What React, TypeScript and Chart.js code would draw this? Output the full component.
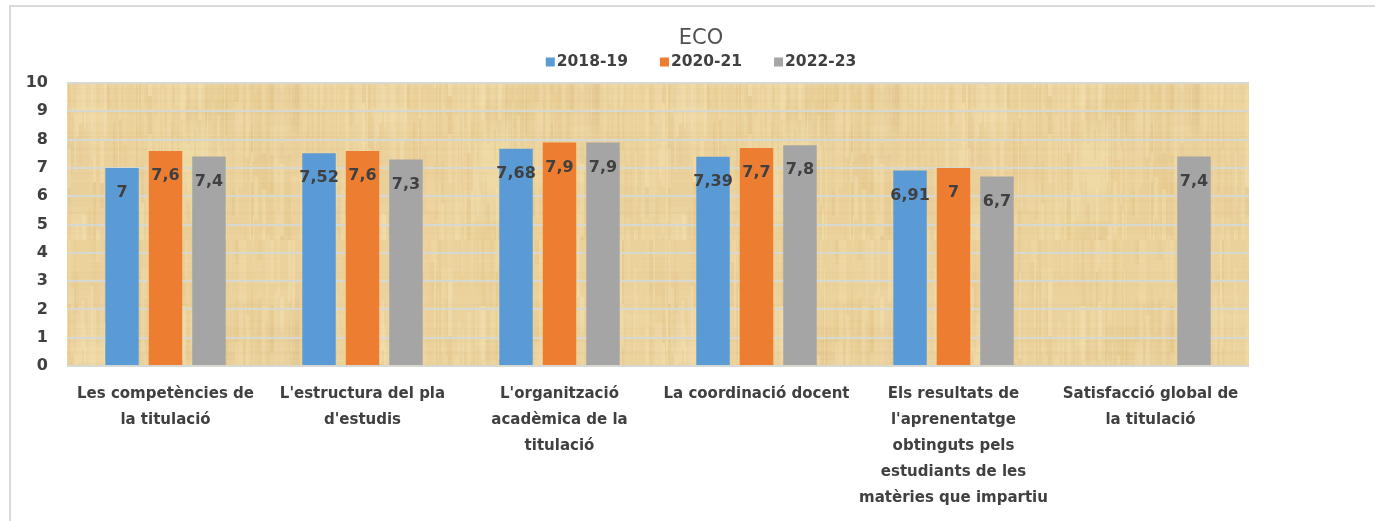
import React, { useEffect, useRef } from 'react';
import { Chart, registerables } from 'chart.js';

Chart.register(...registerables);

const TITLE = 'ECO';
const CATEGORIES: string[][] = [
  ['Les competències de', 'la titulació'],
  ["L'estructura del pla", "d'estudis"],
  ["L'organització", 'acadèmica de la', 'titulació'],
  ['La coordinació docent'],
  ['Els resultats de', "l'aprenentatge", 'obtinguts pels', 'estudiants de les', 'matèries que impartiu'],
  ['Satisfacció global de', 'la titulació'],
];
const SERIES_NAMES = ['2018-19', '2020-21', '2022-23'];
const VALUES_2018_19: (number | null)[] = [7, 7.52, 7.68, 7.39, 6.91, null];
const VALUES_2020_21: (number | null)[] = [7.6, 7.6, 7.9, 7.7, 7, null];
const VALUES_2022_23: (number | null)[] = [7.4, 7.3, 7.9, 7.8, 6.7, 7.4];
const SERIES_COLORS = ['#5B9BD5', '#ED7D31', '#A5A5A5'];
const Y_MIN = 0;
const Y_MAX = 10;
const Y_STEP = 1;

const FONT = '"DejaVu Sans", "Liberation Sans", sans-serif';
const TEXT_DARK = '#404040';

function hash(n: number): number {
  const v = Math.sin(n * 12.9898 + 78.233) * 43758.5453;
  return v - Math.floor(v);
}

function makePapyrus(): CanvasPattern | string {
  const c = document.createElement('canvas');
  const W = 300;
  const H = 240;
  c.width = W;
  c.height = H;
  const g = c.getContext('2d');
  if (!g) return '#EBD19A';
  g.fillStyle = '#EBD19A';
  g.fillRect(0, 0, W, H);
  for (let i = 0; i < 40; i++) {
    const x = hash(i * 3.1) * W;
    const y = hash(i * 5.7 + 2) * H;
    const w = 10 + hash(i * 7.3 + 1) * 40;
    const h = 20 + hash(i * 9.1 + 4) * 70;
    const f = hash(i * 11.3 + 6);
    g.fillStyle = f > 0.5 ? `rgba(245,228,180,${(f - 0.5) * 0.5})` : `rgba(205,170,105,${(0.5 - f) * 0.18})`;
    g.fillRect(x, y, w, h);
  }
  let x = 0;
  let col = 0;
  while (x < W) {
    const cw = 1 + Math.floor(hash(col * 4.7 + 9) * 4);
    let y = 0;
    let k = 0;
    while (y < H) {
      const len = 20 + Math.floor(hash(col * 31 + k * 7) * 70);
      const f = hash(col * 13 + k * 101 + 5);
      if (f > 0.6) {
        g.fillStyle = `rgba(248,234,192,${(f - 0.6) * 0.8})`;
        g.fillRect(x, y, cw, len);
      } else if (f < 0.3) {
        g.fillStyle = `rgba(195,155,90,${(0.3 - f) * 0.35})`;
        g.fillRect(x, y, cw, len);
      }
      y += len;
      k++;
    }
    x += cw;
    col++;
  }
  for (let y = 0; y < H; y += 4) {
    const f = hash(y * 17 + 3);
    g.fillStyle = f > 0.5 ? `rgba(245,228,180,${(f - 0.5) * 0.3})` : `rgba(175,140,80,${(0.5 - f) * 0.08})`;
    g.fillRect(0, y, W, 2);
  }
  return g.createPattern(c, 'repeat') || '#EBD19A';
}

const fmt = (v: number) => String(v).replace('.', ',');

const framePlugin = {
  id: 'frame',
  beforeDraw(chart: any) {
    const { ctx, chartArea } = chart;
    ctx.save();
    ctx.fillStyle = '#FFFFFF';
    ctx.fillRect(0, 0, chart.width, chart.height);
    ctx.strokeStyle = '#D9D9D9';
    ctx.lineWidth = 2;
    ctx.beginPath();
    ctx.moveTo(10, chart.height);
    ctx.lineTo(10, 6);
    ctx.lineTo(chart.width, 6);
    ctx.stroke();
    ctx.fillStyle = chart.$papyrus || '#EBD19A';
    ctx.fillRect(chartArea.left, chartArea.top, chartArea.right - chartArea.left, chartArea.bottom - chartArea.top);
    ctx.restore();
  },
};

const valueLabelPlugin = {
  id: 'valueLabels',
  afterDatasetsDraw(chart: any) {
    const { ctx } = chart;
    ctx.save();
    ctx.font = `bold 16px ${FONT}`;
    ctx.fillStyle = TEXT_DARK;
    ctx.textAlign = 'center';
    ctx.textBaseline = 'middle';
    chart.data.datasets.forEach((ds: any, di: number) => {
      const meta = chart.getDatasetMeta(di);
      meta.data.forEach((bar: any, i: number) => {
        const v = ds.data[i];
        if (v === null || v === undefined) return;
        ctx.fillText(fmt(v), bar.x, bar.y + 25);
      });
    });
    ctx.restore();
  },
};

const headerPlugin = {
  id: 'header',
  afterDraw(chart: any) {
    const { ctx } = chart;
    const cx = 701;
    ctx.save();
    ctx.textBaseline = 'middle';
    ctx.textAlign = 'center';
    ctx.fillStyle = '#505050';
    ctx.font = `21px ${FONT}`;
    ctx.fillText(TITLE, cx, 39);
    ctx.font = `bold 15.5px ${FONT}`;
    const box = 9;
    const gap = 2;
    const spacing = 32;
    const widths = chart.data.datasets.map((d: any) => ctx.measureText(d.label).width);
    const total = widths.reduce((a: number, w: number) => a + box + gap + w, 0) + spacing * (widths.length - 1);
    let x = cx - total / 2;
    ctx.textAlign = 'left';
    chart.data.datasets.forEach((d: any, i: number) => {
      ctx.fillStyle = d.backgroundColor;
      ctx.fillRect(x, 62 - box / 2, box, box);
      ctx.fillStyle = TEXT_DARK;
      ctx.fillText(d.label, x + box + gap, 62);
      x += box + gap + widths[i] + spacing;
    });
    ctx.restore();
  },
};

export default function App() {
  const ref = useRef<HTMLCanvasElement | null>(null);
  useEffect(() => {
    if (!ref.current) return;
    const series = [VALUES_2018_19, VALUES_2020_21, VALUES_2022_23];
    const chart: any = new Chart(ref.current, {
      type: 'bar',
      data: {
        labels: CATEGORIES,
        datasets: SERIES_NAMES.map((name, i) => ({
          label: name,
          data: series[i],
          backgroundColor: SERIES_COLORS[i],
          borderWidth: 0,
          inflateAmount: 0,
          categoryPercentage: 0.662,
          barPercentage: 0.77,
        })),
      },
      options: {
        responsive: false,
        animation: false,
        devicePixelRatio: 1,
        layout: { padding: { top: 83, left: 10, right: 126, bottom: 0 } },
        plugins: {
          legend: { display: false },
          title: { display: false },
          tooltip: { enabled: false },
        },
        scales: {
          x: {
            grid: { display: false, drawTicks: false },
            border: { display: false },
            ticks: {
              color: TEXT_DARK,
              font: { family: FONT, size: 15, weight: 'bold', lineHeight: 26 / 15 },
              padding: 15,
              maxRotation: 0,
              minRotation: 0,
              autoSkip: false,
            },
            afterFit(scale: any) {
              scale.height = 155;
            },
          },
          y: {
            min: Y_MIN,
            max: Y_MAX,
            grid: { color: 'rgba(214,216,212,0.95)', lineWidth: 2, drawTicks: false },
            border: { display: false },
            ticks: {
              stepSize: Y_STEP,
              color: TEXT_DARK,
              font: { family: FONT, size: 16, weight: 'bold' },
              padding: 19,
            },
            afterFit(scale: any) {
              scale.width = 57;
            },
          },
        },
      },
      plugins: [framePlugin, valueLabelPlugin, headerPlugin],
    });
    chart.$papyrus = makePapyrus();
    chart.draw();
    return () => chart.destroy();
  }, []);
  return (
    <div style={{ position: 'fixed', left: 0, top: 0, width: 1375, height: 521, overflow: 'hidden', background: '#fff' }}>
      <canvas ref={ref} width={1375} height={521} style={{ display: 'block' }} />
    </div>
  );
}
